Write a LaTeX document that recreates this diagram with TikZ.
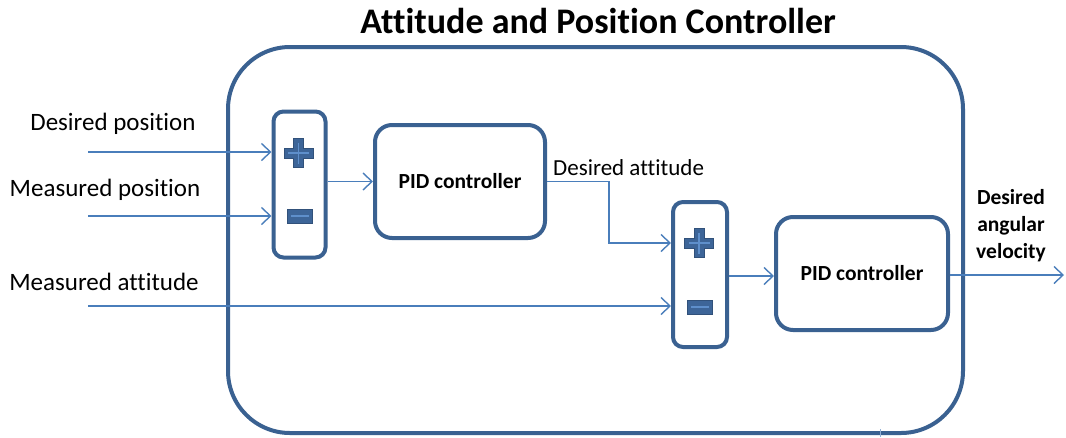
\documentclass[tikz,border=0pt]{standalone}
\usepackage{fontspec}
\setmainfont{Carlito}[Ligatures=NoCommon]
\usetikzlibrary{arrows.meta,calc}
\definecolor{frame}{HTML}{3A6191}
\definecolor{wire}{HTML}{4A7EBB}
\definecolor{signfill}{HTML}{3D6598}
\definecolor{signline}{HTML}{5E8FCB}
\tikzset{
  block/.style={draw=frame, line width=4pt, rounded corners=#1, fill=white},
  block/.default=16pt,
  wirearrow/.style={draw=wire, line width=1.4pt, -{Straight Barb[length=9pt,width=17pt,line width=1.4pt]}},
  lbl/.style={font=\fontsize{25}{29}\selectfont, inner sep=0pt},
  blbl/.style={font=\bfseries\fontsize{21.5}{27}\selectfont, inner sep=0pt},
}
\newcommand{\plussign}[1]{%
  \fill[signfill, draw=signfill!80!black, line width=0.8pt]
    ($(#1)+(-5,-14.5)$) -- ++(10,0) -- ++(0,9.5) -- ++(9.5,0) -- ++(0,10) -- ++(-9.5,0)
    -- ++(0,9.5) -- ++(-10,0) -- ++(0,-9.5) -- ++(-9.5,0) -- ++(0,-10) -- ++(9.5,0) -- cycle;
  \draw[signline, line width=1.2pt] ($(#1)+(-10.5,0)$) -- ++(21,0) ($(#1)+(0,-10.5)$) -- ++(0,21);}
\newcommand{\minussign}[1]{%
  \fill[signfill, draw=signfill!80!black, line width=0.8pt]
    ($(#1)+(-12.5,-7)$) rectangle ($(#1)+(12.5,7)$);
  \draw[signline, line width=1.2pt] ($(#1)+(-9,0)$) -- ++(18,0);}
\begin{document}
\begin{tikzpicture}[x=1pt, y=-1pt]
  \useasboundingbox (0,0) rectangle (1066,437);

  % outer controller frame and title
  \node[block=62pt, minimum width=735pt, minimum height=386pt, anchor=center, inner sep=0pt] (frame) at (595.5,240) {};
  \node[font=\bfseries\fontsize{36}{40}\selectfont, inner sep=0pt] (title) at (598,21) {Attitude and Position Controller};
  \draw[wire!60, line width=0.6pt] (880,429) -- (880,437);

  % summing junctions
  \node[block=10pt, minimum width=52pt, minimum height=146pt, inner sep=0pt] (sum1) at (299.5,184.5) {};
  \node[block=10pt, minimum width=54pt, minimum height=145pt, inner sep=0pt] (sum2) at (700,274.5) {};
  \plussign{298.5,153}
  \minussign{299.5,216}
  \plussign{699,243}
  \minussign{700,307}

  % controllers
  \node[block=17pt, minimum width=170pt, minimum height=113pt, inner sep=0pt, blbl] (pid1) at (460,181.5) {PID controller};
  \node[block=17pt, minimum width=172pt, minimum height=113pt, inner sep=0pt, blbl] (pid2) at (862,273.5) {PID controller};

  % signal sources
  \coordinate (dpos) at (88,152);
  \coordinate (mpos) at (88,216);
  \coordinate (matt) at (88,306);
  \coordinate (bend) at (609,243);
  \coordinate (out) at (1064,275);

  % labels
  \node[lbl] (ldpos) at (113,124) {Desired position};
  \node[lbl] (lmpos) at (105,190) {Measured position};
  \node[lbl] (lmatt) at (104,282) {Measured attitude};
  \node[lbl, font=\fontsize{23}{27}\selectfont, anchor=west] (ldatt) at (553,168) {Desired attitude};
  \node[blbl, align=center] (lout) at (1011,226) {Desired\\angular\\velocity};

  % signal paths
  \draw[wirearrow] (dpos) -- (sum1.west |- dpos);
  \draw[wirearrow] (mpos) -- (sum1.west |- mpos);
  \draw[wirearrow] (sum1.east |- pid1.west) -- (pid1.west);
  \draw[wirearrow] (pid1.east) -| (bend) -- (sum2.west |- bend);
  \draw[wirearrow] (matt) -- (sum2.west |- matt);
  \draw[wirearrow] (sum2.east |- 0,276) -- (pid2.west |- 0,276);
  \draw[wirearrow] (pid2.east |- out) -- (out);
\end{tikzpicture}
\end{document}
